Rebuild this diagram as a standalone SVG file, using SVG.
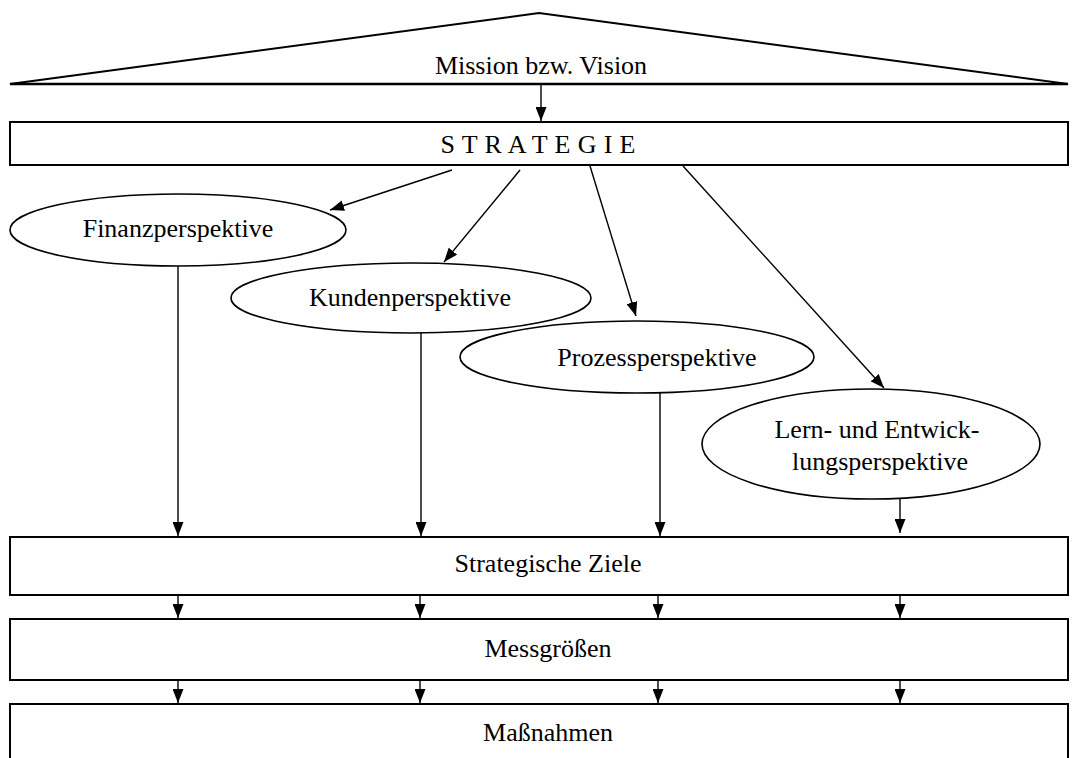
<svg xmlns="http://www.w3.org/2000/svg" width="1084" height="758" viewBox="0 0 1084 758">
<style>
text{font-family:"Liberation Serif","Times New Roman",serif;font-size:26px;fill:#000;text-anchor:middle}
.box{fill:#fff;stroke:#000;stroke-width:2}
.ell{fill:#fff;stroke:#000;stroke-width:1.6}
.con line{stroke:#000;stroke-width:1.4;marker-end:url(#ah)}
</style>
<defs>
<marker id="ah" viewBox="0 0 14 11" refX="14" refY="5.5" markerWidth="14" markerHeight="11" markerUnits="userSpaceOnUse" orient="auto">
<path d="M0,0 L14,5.5 L0,11 Z" fill="#000"/>
</marker>
</defs>
<rect width="1084" height="758" fill="#fff"/>
<g id="mission">
<polygon points="10,84 539,13 1068,84" fill="#fff" stroke="#000" stroke-width="2"/>
<line x1="10" y1="84" x2="1068" y2="84" stroke="#000" stroke-width="2.5"/>
<text x="541" y="74">Mission bzw. Vision</text>
</g>
<g id="strategie">
<rect class="box" x="10" y="122" width="1058" height="43"/>
<text x="538" y="153" textLength="195" lengthAdjust="spacing">S T R A T E G I E</text>
</g>
<g id="finanz">
<ellipse class="ell" cx="178" cy="230" rx="168" ry="36"/>
<text x="178" y="237">Finanzperspektive</text>
</g>
<g id="kunden">
<ellipse class="ell" cx="411" cy="298" rx="180" ry="35"/>
<text x="410" y="306">Kundenperspektive</text>
</g>
<g id="prozess">
<ellipse class="ell" cx="637" cy="357" rx="177" ry="36"/>
<text x="657" y="366">Prozessperspektive</text>
</g>
<g id="lern">
<ellipse class="ell" cx="871" cy="444" rx="169" ry="55"/>
<text x="877" y="438">Lern- und Entwick-</text>
<text x="880" y="470">lungsperspektive</text>
</g>
<g id="ziele">
<rect class="box" x="10" y="537" width="1058" height="58"/>
<text x="548" y="572">Strategische Ziele</text>
</g>
<g id="messgroessen">
<rect class="box" x="10" y="619" width="1058" height="61"/>
<text x="548" y="657">Messgrößen</text>
</g>
<g id="massnahmen">
<rect class="box" x="10" y="704" width="1058" height="70"/>
<text x="548" y="741">Maßnahmen</text>
</g>
<g id="connectors" class="con">
<line x1="541" y1="85" x2="541" y2="121"/>
<line x1="452" y1="170" x2="330" y2="210"/>
<line x1="520" y1="170" x2="444" y2="262"/>
<line x1="590" y1="166" x2="636" y2="316"/>
<line x1="683" y1="166" x2="884" y2="388"/>
<line x1="178" y1="266" x2="178" y2="536"/>
<line x1="421" y1="333" x2="421" y2="536"/>
<line x1="660" y1="393" x2="660" y2="536"/>
<line x1="900" y1="499" x2="900" y2="533"/>
<line x1="178" y1="596" x2="178" y2="618"/>
<line x1="420" y1="596" x2="420" y2="618"/>
<line x1="658" y1="596" x2="658" y2="618"/>
<line x1="900" y1="596" x2="900" y2="618"/>
<line x1="178" y1="681" x2="178" y2="703"/>
<line x1="420" y1="681" x2="420" y2="703"/>
<line x1="658" y1="681" x2="658" y2="703"/>
<line x1="900" y1="681" x2="900" y2="703"/>
</g>
</svg>
